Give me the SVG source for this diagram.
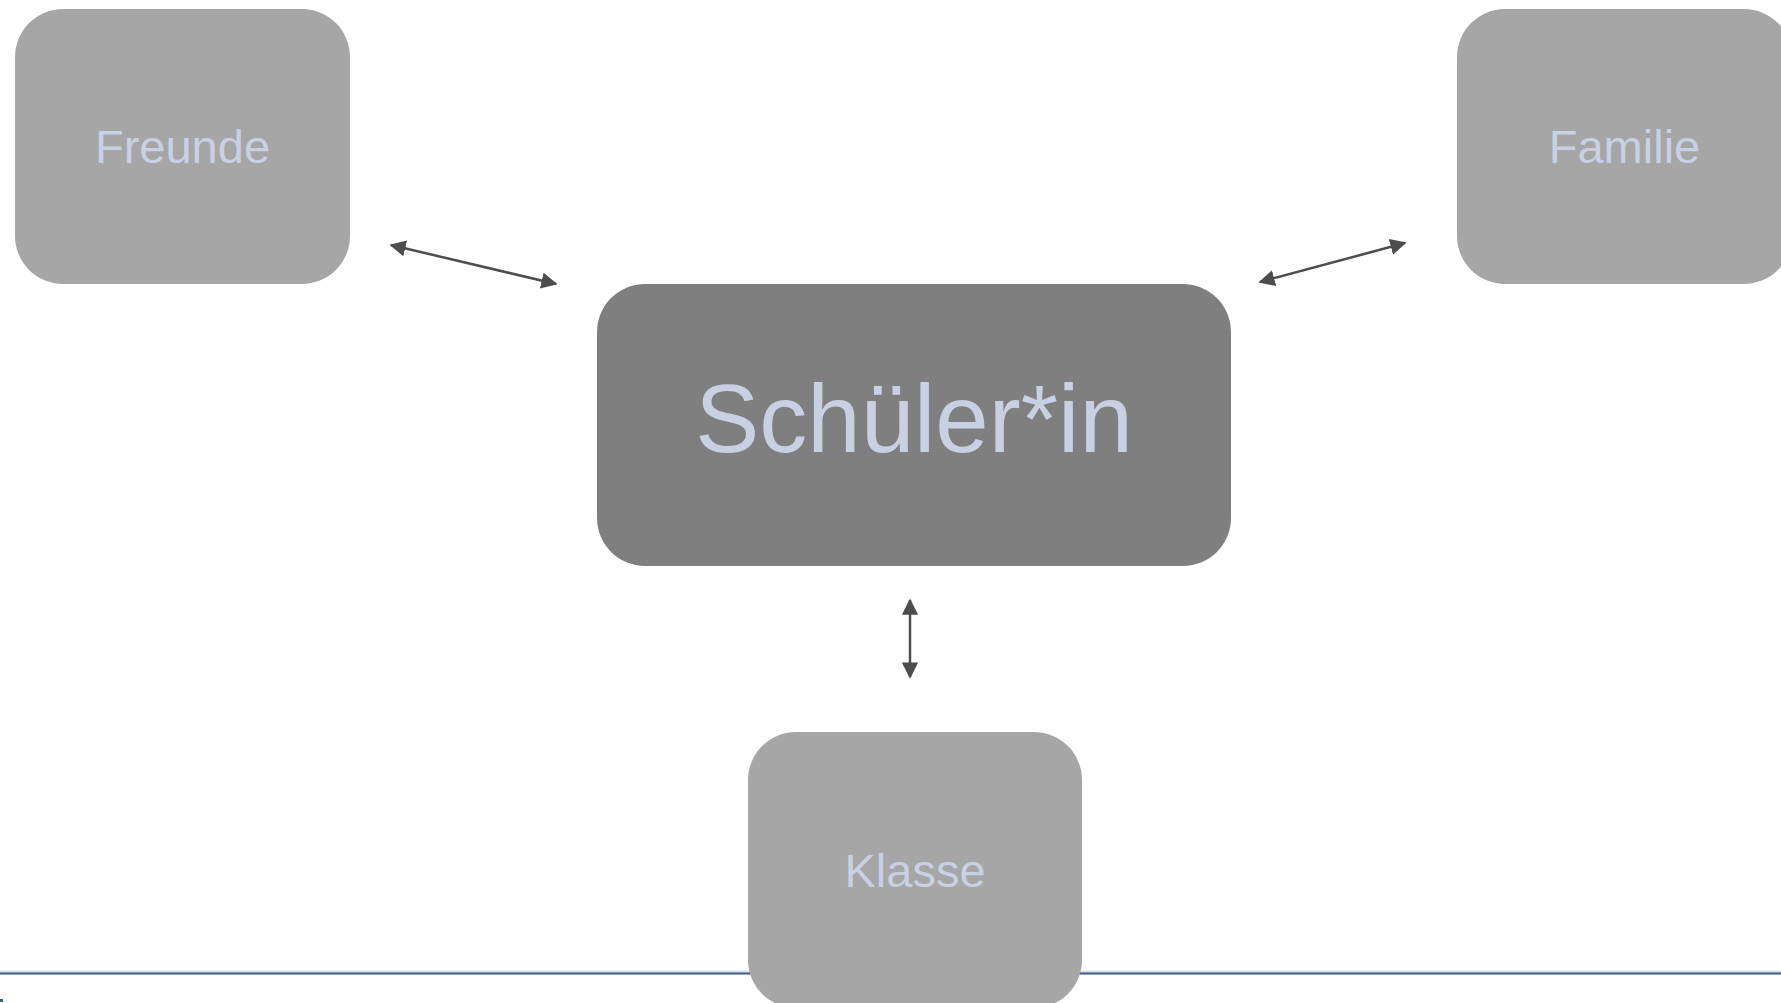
<svg xmlns="http://www.w3.org/2000/svg" width="1781" height="1003" viewBox="0 0 1781 1003">
<defs>
<style>
.box{fill:#a6a6a6}
.main{fill:#7f7f7f}
.lbl{font-family:"Liberation Sans",Arial,sans-serif;fill:#c9d0e3;text-anchor:middle}
.con{stroke:#4d4d4d;stroke-width:2.5;fill:none;marker-start:url(#ah);marker-end:url(#ah)}
</style>
<marker id="ah" viewBox="0 0 10 10" refX="9" refY="5" markerWidth="6.5" markerHeight="6.5" markerUnits="strokeWidth" orient="auto-start-reverse">
<path d="M0,0 L10,5 L0,10 z" fill="#4d4d4d"/>
</marker>
</defs>
<rect width="1781" height="1003" fill="#ffffff"/>
<line x1="0" y1="972" x2="1781" y2="972" stroke="#d8e0ea" stroke-width="3"/>
<line x1="0" y1="973.5" x2="1781" y2="973.5" stroke="#385b85" stroke-width="2"/>
<rect x="0" y="999" width="3" height="3" fill="#385b85"/>
<g id="freunde">
<rect class="box" x="15" y="9" width="335" height="275" rx="48" ry="48"/>
<text class="lbl" x="182.5" y="163" font-size="47">Freunde</text>
</g>
<g id="familie">
<rect class="box" x="1457" y="9" width="335" height="275" rx="48" ry="48"/>
<text class="lbl" x="1624.5" y="163" font-size="47">Familie</text>
</g>
<g id="schueler">
<rect class="main" x="597" y="284" width="634" height="282" rx="48" ry="48"/>
<text class="lbl" x="914" y="452" font-size="96">Schüler*in</text>
</g>
<g id="klasse">
<rect class="box" x="748" y="732" width="334" height="276" rx="48" ry="48"/>
<text class="lbl" x="915" y="887" font-size="47">Klasse</text>
</g>
<g id="connectors">
<line class="con" x1="391" y1="245" x2="556" y2="284"/>
<line class="con" x1="1260" y1="282" x2="1405" y2="243"/>
<line class="con" x1="910" y1="600" x2="910" y2="677"/>
</g>
</svg>
